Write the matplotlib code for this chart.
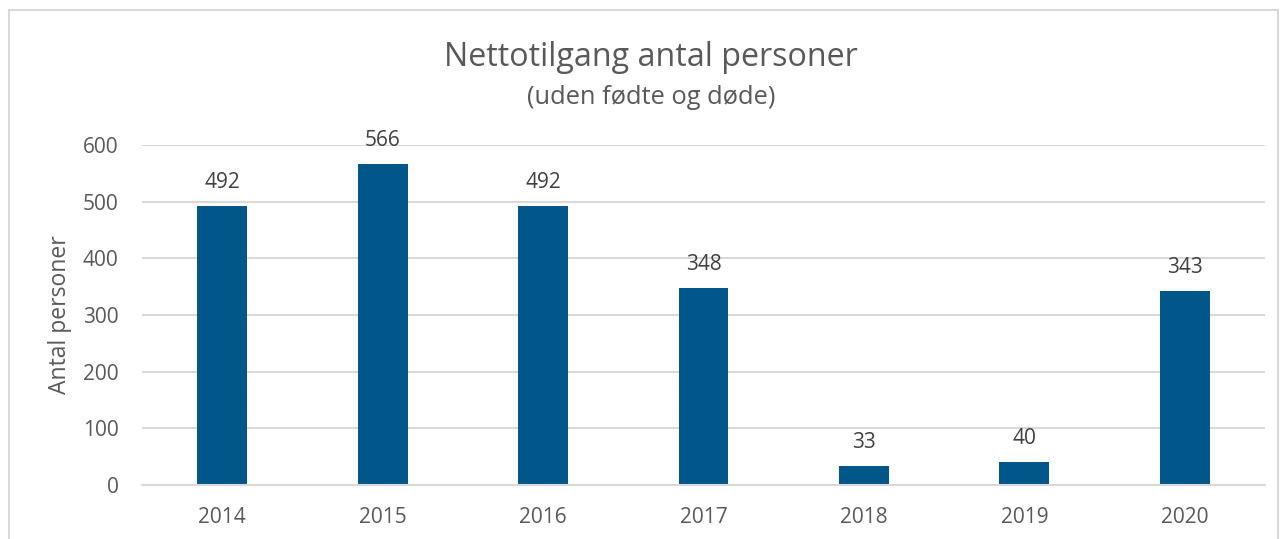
"""
Nettotilgang antal personer (uden fødte og døde), 2014-2020.
"""

import matplotlib.pyplot as plt
from matplotlib.patches import Rectangle

years = ["2014", "2015", "2016", "2017", "2018", "2019", "2020"]
netto = [492, 566, 492, 348, 33, 40, 343]
y_ticks = [0, 100, 200, 300, 400, 500, 600]

BAR_COLOR = "#02578A"
GRID_COLOR = "#D9D9D9"
TEXT_COLOR = "#595959"
LABEL_COLOR = "#404040"

W, H = 1284, 539
plt.rcParams["font.family"] = ["Open Sans", "DejaVu Sans"]

fig = plt.figure(figsize=(W / 100, H / 100), dpi=100)
ax = fig.add_axes([142 / W, 1 - 485 / H, (1265 - 142) / W, 340 / H])

# light frame round the chart area
fig.patches.append(
    Rectangle(
        (9 / W, -0.05),
        (1278 - 9) / W,
        1.05 - 10 / H,
        transform=fig.transFigure,
        fill=False,
        edgecolor=GRID_COLOR,
        linewidth=1.5,
    )
)

xs = range(len(years))
ax.bar(xs, netto, width=0.31, color=BAR_COLOR, zorder=2)

for x, v in zip(xs, netto):
    ax.annotate(
        str(v),
        (x, v),
        xytext=(0, 13),
        textcoords="offset points",
        ha="center",
        va="baseline",
        fontsize=15,
        color=LABEL_COLOR,
        annotation_clip=False,
    )

ax.set_xlim(-0.5, len(years) - 0.5)
ax.set_ylim(0, 600)
ax.set_xticks(list(xs))
ax.set_xticklabels(years)
ax.set_yticks(y_ticks)
ax.tick_params(axis="both", length=0, labelsize=15, labelcolor=TEXT_COLOR)
ax.tick_params(axis="y", pad=17)
ax.tick_params(axis="x", pad=16)

ax.grid(axis="y", color=GRID_COLOR, linewidth=1.5, zorder=0)
ax.set_axisbelow(True)
for side in ["top", "right", "left"]:
    ax.spines[side].set_visible(False)
ax.spines["bottom"].set_color(GRID_COLOR)
ax.spines["bottom"].set_linewidth(1.5)

fig.text(
    60 / W, 1 - 315 / H, "Antal personer",
    rotation=90, ha="center", va="center", fontsize=16.5, color=TEXT_COLOR,
)
fig.text(
    651 / W, 1 - 66 / H, "Nettotilgang antal personer",
    ha="center", va="baseline", fontsize=23.2, color=TEXT_COLOR,
)
fig.text(
    651 / W, 1 - 104 / H, "(uden fødte og døde)",
    ha="center", va="baseline", fontsize=18.3, color=TEXT_COLOR,
)

fig.savefig("out.png", dpi=100)
